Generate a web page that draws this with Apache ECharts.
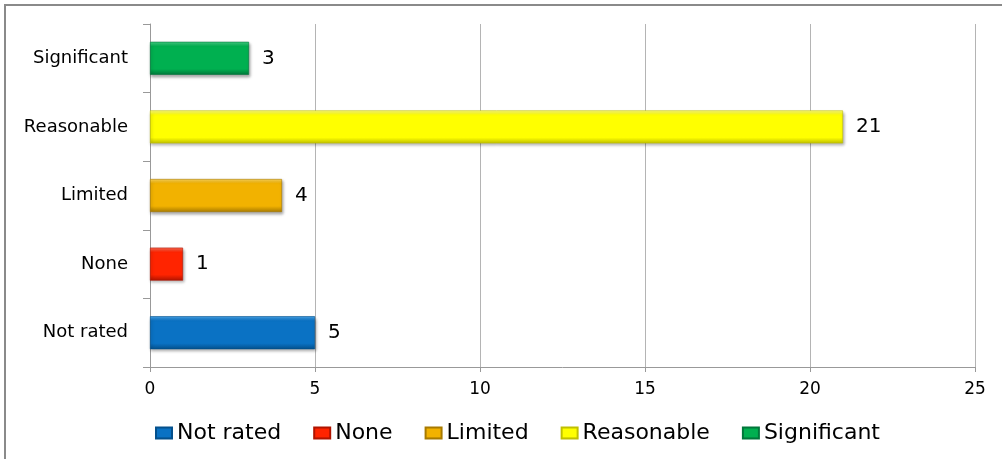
<!DOCTYPE html>
<html>
<head>
<meta charset="utf-8">
<script src="https://cdn.jsdelivr.net/npm/echarts@6/dist/echarts.min.js"></script>
<style>html,body{margin:0;padding:0;background:#fff}#c{width:1003px;height:459px}</style>
</head>
<body>
<div id="c"></div>
<script>
var categories = ['Not rated', 'None', 'Limited', 'Reasonable', 'Significant'];
var values = [5, 1, 4, 21, 3];
var xTicks = [0, 5, 10, 15, 20, 25];
var colors = [
  ['#47a6ec', '#0a72c4', '#04508c'],
  ['#ff7058', '#ff2400', '#b01400'],
  ['#ffd659', '#f2b200', '#a87a00'],
  ['#ffff80', '#ffff00', '#c0c000'],
  ['#46d386', '#00b050', '#00773a']
];
var FONT = 'DejaVu Sans';
function grad(c) {
  return new echarts.graphic.LinearGradient(0, 0, 0, 1, [
    {offset: 0, color: c[0]}, {offset: 0.14, color: c[1]},
    {offset: 0.82, color: c[1]}, {offset: 1, color: c[2]}
  ]);
}
var series = categories.map(function (name, i) {
  return {
    name: name,
    type: 'bar',
    barWidth: 33,
    barGap: '-100%',
    data: categories.map(function (c, j) { return j === i ? values[i] : '-'; }),
    itemStyle: {color: grad(colors[i]), borderColor: colors[i][2], borderWidth: 0.6,
      shadowColor: 'rgba(0,0,0,0.35)', shadowBlur: 3, shadowOffsetX: 1, shadowOffsetY: 2},
    label: {show: true, position: 'right', distance: 13, fontSize: 20, color: '#000', fontFamily: FONT}
  };
});
var chart = echarts.init(document.getElementById('c'));
chart.setOption({
  animation: false,
  color: colors.map(function (c) { return c[1]; }),
  grid: {left: 150, right: 28, top: 24, bottom: 92, containLabel: false},
  xAxis: {
    type: 'value', min: xTicks[0], max: xTicks[xTicks.length - 1], interval: 5,
    axisLine: {show: true, lineStyle: {color: '#999'}},
    axisTick: {show: true, length: 5, lineStyle: {color: '#999'}},
    splitLine: {show: true, lineStyle: {color: '#b4b4b4', width: 1}},
    axisLabel: {fontSize: 17, color: '#000', margin: 14, fontFamily: FONT}
  },
  yAxis: {
    type: 'category', data: categories,
    axisLine: {show: true, lineStyle: {color: '#999'}},
    axisTick: {show: true, length: 7, lineStyle: {color: '#999'}},
    axisLabel: {fontSize: 18, color: '#000', margin: 22, fontFamily: FONT}
  },
  legend: {
    data: categories, top: 417, left: 150, icon: 'rect', itemWidth: 16, itemHeight: 11, itemGap: 32,
    textStyle: {fontSize: 22, color: '#000', fontFamily: FONT}
  },
  graphic: [{
    type: 'polyline', shape: {points: [[5, 459], [5, 5], [1002, 5]]},
    style: {stroke: '#8a8a8a', lineWidth: 2, fill: null}
  }],
  series: series
});
</script>
</body>
</html>
